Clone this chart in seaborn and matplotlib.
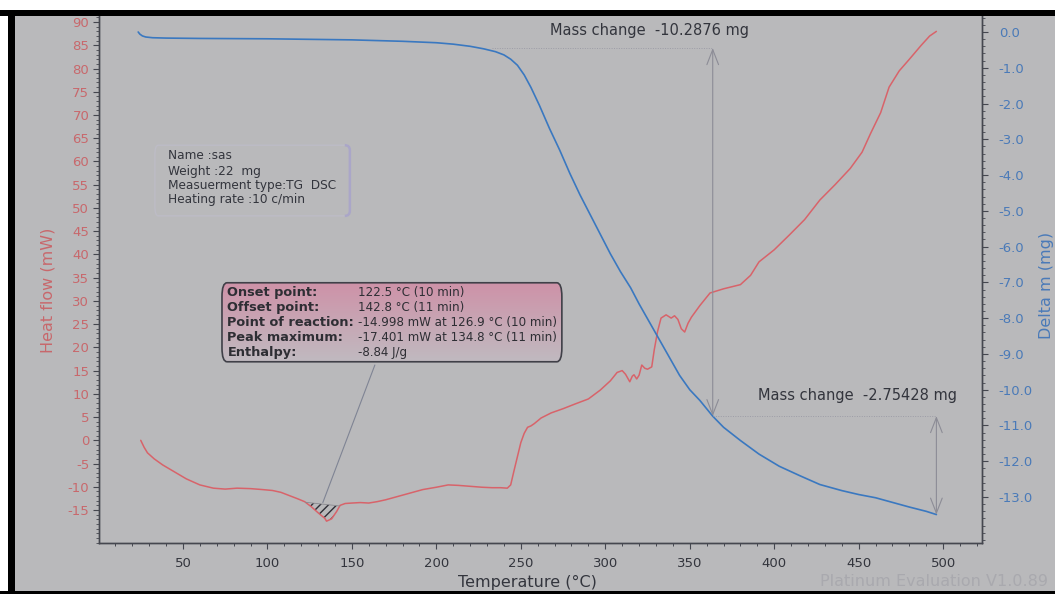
import numpy as np
import matplotlib
matplotlib.use("Agg")
import matplotlib.pyplot as plt
import seaborn as sns
from matplotlib.patches import FancyBboxPatch, Rectangle, PathPatch
from matplotlib.path import Path
from matplotlib.ticker import MultipleLocator, FormatStrFormatter

# DSC heat flow (mW) against temperature (°C)
dsc_temp = [25, 27, 29, 33, 38, 45, 52, 60, 68, 75, 82, 90, 97, 103, 108, 113,
            118, 122, 126, 130, 134, 135, 138, 141, 143, 146, 150, 155, 160, 165,
            170, 178, 185, 192, 200, 207, 213, 220, 227, 233, 238, 242, 244, 246,
            248, 250, 252, 254, 256, 258, 262, 268, 275, 282, 290, 297, 303, 307,
            310, 312, 314.5, 316, 317, 318.6, 320, 321.6, 323.4, 325, 327.5, 329,
            331, 333, 336, 339, 341, 343, 345, 347, 349, 351, 356, 362, 370, 380,
            386, 391, 400, 409, 418, 427, 436, 445, 452, 457, 463, 468, 474, 480,
            487, 492, 496]
dsc_heat_flow = [0, -1.5, -2.7, -4, -5.3, -6.8, -8.3, -9.6, -10.3, -10.5, -10.3,
                 -10.4, -10.6, -10.8, -11.2, -11.9, -12.6, -13.2, -14.3, -15.6,
                 -16.8, -17.4, -16.9, -15.3, -14.0, -13.6, -13.5, -13.4, -13.5,
                 -13.2, -12.8, -12.0, -11.3, -10.6, -10.1, -9.6, -9.7, -9.9, -10.1,
                 -10.2, -10.2, -10.3, -9.6, -6.5, -3.5, -0.5, 1.5, 2.8, 3.1, 3.6,
                 4.8, 5.9, 6.8, 7.8, 8.9, 10.8, 12.8, 14.6, 15.0, 14.2, 12.6, 13.8,
                 14.1, 13.2, 14.0, 16.2, 15.5, 15.3, 15.8, 19.5, 23.5, 26.3, 27.0,
                 26.3, 26.8, 26.0, 24.0, 23.3, 25.2, 26.5, 29.0, 31.7, 32.6, 33.5,
                 35.5, 38.4, 41.0, 44.2, 47.5, 51.7, 55.0, 58.5, 62.0, 66.0, 70.5,
                 76.0, 79.5, 82.0, 85.0, 87.0, 88.0]

# TG mass change (mg) against temperature (°C)
tg_temp = [23.5, 24.5, 26, 28, 32, 40, 60, 100, 150, 180, 200, 210, 220, 228,
           235, 240, 244, 248, 252, 256, 261, 267, 273, 279, 285, 291, 297, 303,
           309, 315, 320, 326, 332, 338, 344, 350, 356, 363.6, 370, 380, 391, 403,
           415, 427, 440, 450, 460, 470, 480, 490, 496]
tg_delta_m = [0.0, -0.06, -0.11, -0.14, -0.16, -0.17, -0.18, -0.19, -0.22, -0.26,
              -0.3, -0.34, -0.4, -0.47, -0.55, -0.64, -0.76, -0.93, -1.2, -1.55,
              -2.05, -2.7, -3.3, -3.95, -4.55, -5.1, -5.65, -6.2, -6.7, -7.15,
              -7.6, -8.1, -8.6, -9.1, -9.6, -10.0, -10.3, -10.74, -11.05, -11.42,
              -11.8, -12.14, -12.4, -12.65, -12.82, -12.93, -13.02, -13.15, -13.28,
              -13.4, -13.49]

# Mass change steps
step_start_level = -0.45
step_temps = [363.6, 496]
step_changes = [-10.2876, -2.75428]

# Peak evaluation
onset_temp = 122.5
offset_temp = 142.8
info_lines = ["Name :sas", "Weight :22  mg", "Measuerment type:TG  DSC",
              "Heating rate :10 c/min"]
peak_labels = ["Onset point:", "Offset point:", "Point of reaction:",
               "Peak maximum:", "Enthalpy:"]
peak_values = ["122.5 °C (10 min)", "142.8 °C (11 min)",
               "-14.998 mW at 126.9 °C (10 min)",
               "-17.401 mW at 134.8 °C (11 min)", "-8.84 J/g"]

x_ticks = [50, 100, 150, 200, 250, 300, 350, 400, 450, 500]
hf_ticks = list(range(-15, 95, 5))
dm_ticks = [0.0, -1.0, -2.0, -3.0, -4.0, -5.0, -6.0, -7.0, -8.0, -9.0, -10.0,
            -11.0, -12.0, -13.0]

BG = "#b9b9bb"
RED = "#d8636a"
BLUE = "#3a78c0"
RED_TXT = "#c8686c"
BLUE_TXT = "#4a7ab8"

sns.set_theme(style="white")
plt.rcParams["font.family"] = ["DejaVu Sans"]
plt.rcParams["axes.unicode_minus"] = False

W, H = 1055, 594
fig = plt.figure(figsize=(W / 100, H / 100), dpi=100, facecolor=BG)
left, right, bottom, top = 99, 982, 543, 10
ax = fig.add_axes([left / W, 1 - bottom / H, (right - left) / W, (bottom - top) / H])
ax.set_facecolor(BG)
ax2 = ax.twinx()

sns.lineplot(x=dsc_temp, y=dsc_heat_flow, ax=ax, color=RED, linewidth=1.1,
             sort=False, estimator=None)
sns.lineplot(x=tg_temp, y=tg_delta_m, ax=ax2, color=BLUE, linewidth=1.2,
             sort=False, estimator=None)

XLIM = (0.3, 523)
YLIM = (-22.1, 92.6)
ax2.set_ylim(-14.285, 0.615)

# hatched peak area between the onset/offset baseline and the curve
t_fine = np.linspace(onset_temp, offset_temp, 60)
hf_fine = np.interp(t_fine, dsc_temp, dsc_heat_flow)
base = np.interp(t_fine, [onset_temp, offset_temp],
                 [hf_fine[0], hf_fine[-1]])
ax.fill_between(t_fine, base, hf_fine, facecolor="none", edgecolor="#2e2e36",
                hatch="////", linewidth=0)
ax.plot([onset_temp, offset_temp], [hf_fine[0], hf_fine[-1]], color="#8a8a90",
        linewidth=0.6)

# leader line from the evaluation box to the peak
ax.plot([163.6, 132.8], [16.2, -13.4], color="#7f8494", linewidth=0.8)

# peak evaluation box with pink gradient
bx0, bx1, by0, by1 = 73.1, 274.3, 16.9, 33.9
box = FancyBboxPatch((bx0, by0), bx1 - bx0, by1 - by0,
                     boxstyle="round,pad=0,rounding_size=3", transform=ax.transData,
                     facecolor="none", edgecolor="#404048", linewidth=1.2, zorder=6)
ax.add_patch(box)
grad = np.linspace(0, 1, 100).reshape(-1, 1)
top_c = np.array([206, 146, 168]) / 255
bot_c = np.array([192, 186, 192]) / 255
img = top_c + (bot_c - top_c) * grad[..., None]
im = ax.imshow(img, extent=[bx0, bx1, by0, by1], origin="upper", aspect="auto",
               zorder=5)
im.set_clip_path(box)
ax.set_xlim(*XLIM)
ax.set_ylim(*YLIM)
row_y = [31.7, 28.5, 25.3, 22.1, 19.0]
for lab, val, yy in zip(peak_labels, peak_values, row_y):
    ax.text(76.3, yy, lab, fontsize=9.3, fontweight="bold", color="#2e2e34",
            va="center", ha="left", zorder=7)
    ax.text(153.5, yy, val, fontsize=8.6, color="#2e2e34", va="center",
            ha="left", zorder=7)

# sample info box: soft frame with a lavender edge on the right side
ibox = FancyBboxPatch((33.4, 48.3), 115.4, 15.2,
                      boxstyle="round,pad=0,rounding_size=2", transform=ax.transData,
                      facecolor="none", edgecolor="#bdbcc6", linewidth=1.0, zorder=4)
ax.add_patch(ibox)
edge = Path([(145.8, 63.5), (148.8, 63.5), (148.8, 62.4), (148.8, 49.4),
             (148.8, 48.3), (145.8, 48.3)],
            [Path.MOVETO, Path.CURVE3, Path.CURVE3, Path.LINETO, Path.CURVE3,
             Path.CURVE3])
ax.add_patch(PathPatch(edge, facecolor="none", edgecolor="#aaa6c8", linewidth=1.8,
                       zorder=4, transform=ax.transData))
for line, yy in zip(info_lines, [61.2, 57.9, 54.8, 51.8]):
    ax.text(41.1, yy, line, fontsize=8.7, color="#33353d", va="center",
            ha="left", zorder=5)

# mass change steps with double arrows
lvl0 = step_start_level
lvl1 = lvl0 + step_changes[0]
lvl2 = lvl1 + step_changes[1]
ax2.plot([233, step_temps[0]], [lvl0, lvl0], color="#9c9ca6", linewidth=0.7,
         linestyle=(0, (1, 1.5)))
ax2.plot([step_temps[0], step_temps[1]], [lvl1, lvl1], color="#9c9ca6",
         linewidth=0.7, linestyle=(0, (1, 1.5)))
for tx, y0, y1 in [(step_temps[0], lvl0, lvl1), (step_temps[1], lvl1, lvl2)]:
    ax2.annotate("", xy=(tx, y0), xytext=(tx, y1),
                 arrowprops=dict(arrowstyle="<->,head_length=0.9,head_width=0.35",
                                 color="#8c8c96", linewidth=0.8,
                                 shrinkA=0, shrinkB=0))
ax2.text(326, 0.05, f"Mass change  {step_changes[0]} mg", fontsize=10.5,
         color="#33353d", ha="center", va="center")
ax2.text(449.5, -10.15, f"Mass change  {step_changes[1]} mg", fontsize=10.5,
         color="#33353d", ha="center", va="center")

# axes styling
for a in (ax, ax2):
    for s in a.spines.values():
        s.set_color("#45474f")
        s.set_linewidth(1.0)
    a.spines["top"].set_visible(False)
    a.grid(False)

ax.set_xticks(x_ticks)
ax.xaxis.set_minor_locator(MultipleLocator(10))
ax.set_yticks(hf_ticks)
ax.yaxis.set_minor_locator(MultipleLocator(1))
ax2.set_yticks(dm_ticks)
ax2.yaxis.set_major_formatter(FormatStrFormatter("%.1f"))
ax2.yaxis.set_minor_locator(MultipleLocator(0.2))

ax.tick_params(axis="x", which="major", direction="out", length=4, width=0.8,
               color="#45474f", labelsize=9.5, labelcolor="#33353d", pad=6,
               bottom=True)
ax.tick_params(axis="x", which="minor", direction="out", length=2, width=0.7,
               color="#45474f", bottom=True)
ax.tick_params(axis="y", which="major", direction="out", length=4, width=0.8,
               color="#45474f", labelsize=9.5, labelcolor=RED_TXT, pad=3, left=True)
ax.tick_params(axis="y", which="minor", direction="out", length=2, width=0.6,
               color="#45474f", left=True)
ax2.tick_params(axis="y", which="major", direction="out", length=4, width=0.8,
                color="#45474f", labelsize=9.5, labelcolor=BLUE_TXT, pad=8,
                right=True)
ax2.tick_params(axis="y", which="minor", direction="out", length=2, width=0.6,
                color="#45474f", right=True)
ax2.set_ylabel("")
ax.set_ylabel("")

fig.text(48 / W, 1 - 290 / H, "Heat flow (mW)", rotation=90, fontsize=11.5,
         color=RED_TXT, ha="center", va="center")
fig.text(1046 / W, 1 - 285 / H, "Delta m (mg)", rotation=90, fontsize=11.5,
         color=BLUE_TXT, ha="center", va="center")
fig.text(527 / W, 1 - 582 / H, "Temperature (°C)", fontsize=11.5,
         color="#33353d", ha="center", va="center")
fig.text(1048 / W, 1 - 574 / H, "Platinum Evaluation V1.0.89", fontsize=11.5,
         color="#a9a9ae", ha="right", va="top")

# outer frame: white margin and black band
fig.patches.append(Rectangle((0, 1 - 10 / H), 1, 10 / H, transform=fig.transFigure,
                             facecolor="white", edgecolor="none", zorder=20))
fig.patches.append(Rectangle((0, 1 - 16 / H), 1, 6 / H, transform=fig.transFigure,
                             facecolor="black", edgecolor="none", zorder=21))
fig.patches.append(Rectangle((0, 0), 8 / W, 1, transform=fig.transFigure,
                             facecolor="white", edgecolor="none", zorder=20))
fig.patches.append(Rectangle((8 / W, 0), 7 / W, 1 - 10 / H, transform=fig.transFigure,
                             facecolor="black", edgecolor="none", zorder=21))
fig.patches.append(Rectangle((0, 0), 1, 3.5 / H, transform=fig.transFigure,
                             facecolor="black", edgecolor="none", zorder=21))

fig.savefig("out.png", dpi=100, facecolor=BG)
